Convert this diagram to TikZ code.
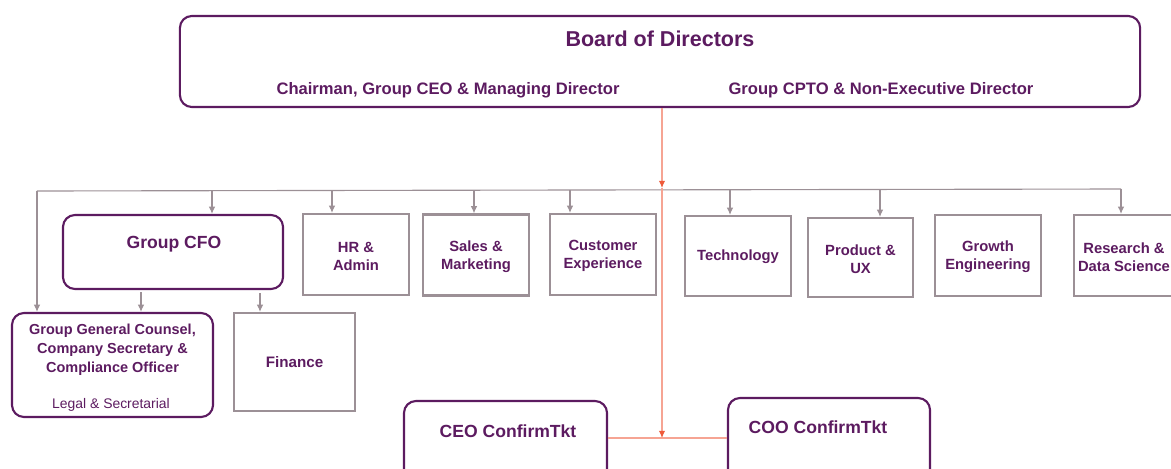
\documentclass[tikz,border=0pt]{standalone}
\usepackage{fontspec}
\setmainfont{Liberation Sans}
\usetikzlibrary{arrows.meta}
\definecolor{plum}{HTML}{5C1B60}
\definecolor{mauve}{HTML}{9C9096}
\definecolor{flame}{HTML}{EE5A3A}
\tikzset{
  unitbox/.style={draw=mauve, line width=1.5pt, minimum width=2.65cm, minimum height=2.025cm, inner sep=0pt,
    text=plum, font=\bfseries\fontsize{10.8}{12.8}\selectfont, align=center},
  unitlabel/.style={text=plum, font=\bfseries\fontsize{10.5}{12.8}\selectfont, align=center},
  execbox/.style={draw=plum, line width=1.5pt, rounded corners=0.3cm, inner sep=0pt},
  boardtitle/.style={text=plum, font=\bfseries\fontsize{15.3}{18}\selectfont},
  boardrole/.style={text=plum, font=\bfseries\fontsize{11.8}{14}\selectfont},
  exectitle/.style={text=plum, font=\bfseries\fontsize{12.5}{15}\selectfont},
  counsel/.style={text=plum, font=\bfseries\fontsize{10.3}{13.4}\selectfont, align=center},
  counselsub/.style={text=plum, font=\fontsize{9.9}{12}\selectfont},
  bus/.style={draw=mauve, line width=0.8pt},
  drop/.style={draw=mauve, line width=0.8pt, -{Latex[length=1.8mm,width=1.6mm]}},
  redline/.style={draw=flame!55, line width=0.8pt},
  redarrow/.style={draw=flame!55, line width=0.8pt, -{Latex[length=1.8mm,width=1.6mm,color=flame]}},
}
\begin{document}
\begin{tikzpicture}[x=0.025cm, y=-0.025cm]
\useasboundingbox (0,0) rectangle (1171,468);
\node[execbox, minimum width=24cm, minimum height=2.275cm] (board) at (660,61.5) {};
\node[boardtitle] (bodTitle) at (660,39) {Board of Directors};
\node[boardrole] (chair) at (448,90) {Chairman, Group CEO \& Managing Director};
\node[boardrole] (cpto) at (881,90) {Group CPTO \& Non-Executive Director};
\node[execbox, minimum width=5.5cm, minimum height=1.85cm] (cfo) at (173,252) {};
\node[exectitle] (cfoText) at (174,244) {Group CFO};
\node[execbox, minimum width=5.025cm, minimum height=2.6cm] (gc) at (112.5,365) {};
\node[counsel] (gcText) at (112.5,350) {Group General Counsel,\\Company Secretary \&\\Compliance Officer};
\node[counselsub] (gcSub) at (111,405) {Legal \& Secretarial};
\node[unitbox, minimum width=3.025cm, minimum height=2.45cm] (fin) at (294.5,362) {Finance};
\node[unitbox] (hr) at (356,254.5) {};
\node[unitlabel] (hrText) at (356,256) {HR \&\\Admin};
\node[unitbox] (sales) at (476,255) {};
\node[unitlabel] (salesText) at (476,256.5) {Sales \&\\Marketing};
\node[unitbox] (cx) at (603,254.5) {};
\node[unitlabel] (cxText) at (603,256) {Customer\\Experience};
\node[unitbox, minimum height=2cm] (tech) at (738,256) {};
\node[unitlabel] (techText) at (738,257) {Technology};
\node[unitbox, minimum width=2.625cm, minimum height=1.975cm] (prod) at (860.5,257.5) {};
\node[unitlabel] (prodText) at (860.5,259) {Product \&\\UX};
\node[unitbox] (growth) at (988,255.5) {};
\node[unitlabel] (growthText) at (988,256.5) {Growth\\Engineering};
\node[unitbox] (rds) at (1127,255.5) {};
\node[unitlabel] (rdsText) at (1124,257) {Research \&\\Data Science};
\node[execbox, minimum width=5.075cm, minimum height=2.225cm] (ceo) at (505.5,445.5) {};
\node[exectitle] (ceoText) at (508,431) {CEO ConfirmTkt};
\node[execbox, minimum width=5.05cm, minimum height=2.25cm] (coo) at (829,443) {};
\node[exectitle] (cooText) at (818,427) {COO ConfirmTkt};
\coordinate (busL) at (37,191);
\coordinate (busR) at (1121,189);
\coordinate (redTip) at (662,188);
\coordinate (meet) at (662,438);
\draw[bus] (busL) -- (busR);
\draw[drop] (busL) -- (busL |- gc.north);
\draw[drop] (212,190) -- (212,0 |- cfo.north);
\draw[drop] (332,190) -- (332,0 |- hr.north);
\draw[drop] (474,190) -- (474,0 |- sales.north);
\draw[drop] (570,190) -- (570,0 |- cx.north);
\draw[drop] (730,189) -- (730,0 |- tech.north);
\draw[drop] (880,189) -- (880,0 |- prod.north);
\draw[drop] (busR) -- (busR |- rds.north);
\draw[drop] (141,292) -- (141,0 |- gc.north);
\draw[drop] (260,293) -- (260,0 |- fin.north);
\draw[redline] (meet -| ceo.east) -- (meet -| coo.west);
\draw[redarrow] (board.south -| redTip) -- (redTip);
\draw[redarrow] (redTip) -- (meet);
\end{tikzpicture}
\end{document}
